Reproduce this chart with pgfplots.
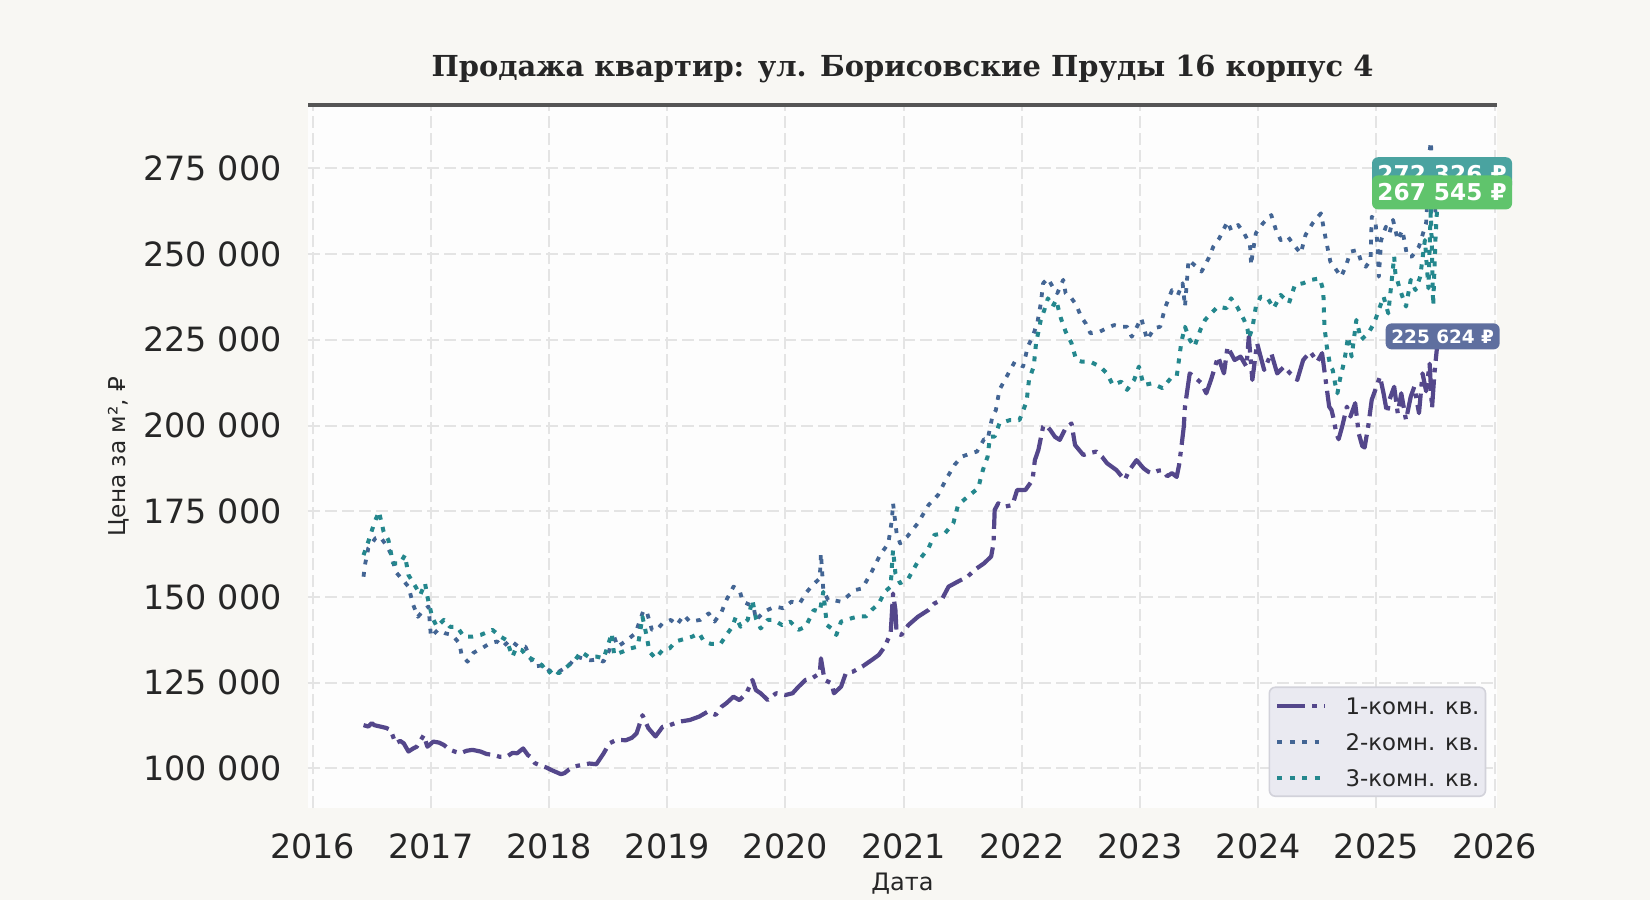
\documentclass[border=0pt]{standalone}
\usepackage{fontspec}
\setmainfont{DejaVu Sans}
\newfontfamily\titlefont{DejaVu Serif}
\usepackage{pgfplots}
\pgfplotsset{compat=1.18}
\definecolor{figbg}{HTML}{F8F7F3}
\definecolor{axbg}{HTML}{FDFDFD}
\definecolor{gridc}{HTML}{E4E4E4}
\definecolor{spinec}{HTML}{555555}
\definecolor{cA}{HTML}{54478B}
\definecolor{cB}{HTML}{436594}
\definecolor{cC}{HTML}{24878D}
\definecolor{legbg}{HTML}{EAEAF1}
\definecolor{legedge}{HTML}{D2D2DA}
\definecolor{boxA}{HTML}{5F6F9F}
\definecolor{boxB}{HTML}{4AA3A0}
\definecolor{boxC}{HTML}{60C46C}
\definecolor{txt}{HTML}{262626}

\begin{document}
\begin{tikzpicture}
\fill[figbg] (0pt,0pt) rectangle (825pt,450pt);
\begin{axis}[
  name=ax,
  at={(154pt,46pt)}, anchor=south west,
  width=594.5pt, height=351.5pt, scale only axis,
  xmin=2015.96, xmax=2026.02, ymin=88430, ymax=293490,
  scaled x ticks=false, scaled y ticks=false,
  clip=false,
  axis background/.style={fill=axbg},
  axis line style={draw=none},
  xtick={2016,2017,2018,2019,2020,2021,2022,2023,2024,2025,2026},
  xticklabels={2016,2017,2018,2019,2020,2021,2022,2023,2024,2025,2026},
  ytick={100000,125000,150000,175000,200000,225000,250000,275000},
  yticklabels={100 000,125 000,150 000,175 000,200 000,225 000,250 000,275 000},
  major tick length=0pt,
  xmajorgrids, ymajorgrids,
  grid style={color=gridc, line width=1pt, dash pattern=on 6pt off 2.5pt},
  xticklabel style={font=\fontsize{16.7}{18}\selectfont, text=txt, anchor=north, inner sep=0pt, yshift=-12.5pt},
  yticklabel style={font=\fontsize{16.7}{18}\selectfont, text=txt, anchor=east, inner sep=0pt, xshift=-13pt},
  xlabel={Дата},
  ylabel={Цена за м², ₽},
  xlabel style={font=\fontsize{12}{14}\selectfont, text=txt, at={(axis description cs:0.5,-0.108)}, anchor=center},
  ylabel style={font=\fontsize{11.6}{14}\selectfont, text=txt, at={(axis description cs:-0.159,0.5)}, anchor=center, rotate=0},
  title={\titlefont\bfseries Продажа квартир: ул. Борисовские Пруды 16 корпус 4},
  title style={font=\fontsize{14.45}{17}\selectfont, text=txt, at={(axis description cs:0.5,1.034)}, anchor=center},
  legend style={at={(axis description cs:0.991,0.0156)}, anchor=south east,
    fill=legbg, draw=legedge, line width=0.8pt, rounded corners=3pt,
    font=\fontsize{11.4}{13}\selectfont, text=txt,
    inner xsep=3pt, inner ysep=5pt, row sep=9.5pt,
    nodes={inner sep=0pt, text height=8.5pt, text depth=0pt},
    /tikz/every odd column/.append style={column sep=9.5pt}},
  legend cell align=left,
  legend image code/.code={\draw[#1] (0pt,0pt) -- (23.5pt,0pt);},
]
\addplot[cA, line width=2.1pt, dash pattern=on 14pt off 3.5pt on 2.3pt off 3.5pt, line join=round] coordinates {
(2016.43,112600)(2016.47,112200)(2016.50,113200)(2016.52,112600)(2016.57,112200)(2016.62,111800)(2016.66,111200)(2016.70,107300)(2016.74,108000)(2016.77,107300)(2016.81,104900)(2016.85,105800)(2016.88,106300)(2016.94,109700)(2016.97,106300)(2017.02,107800)(2017.07,107500)(2017.11,106800)(2017.16,105400)(2017.21,104800)(2017.25,104400)(2017.30,105100)(2017.35,105400)(2017.42,104900)(2017.47,104200)(2017.53,103900)(2017.58,103400)(2017.64,103400)(2017.69,104500)(2017.73,104400)(2017.78,105800)(2017.82,103900)(2017.84,103400)(2017.88,101500)(2017.93,100800)(2017.98,100200)(2018.02,99500)(2018.06,98900)(2018.10,98300)(2018.13,98600)(2018.17,99700)(2018.22,100600)(2018.28,101000)(2018.34,101400)(2018.40,101200)(2018.46,104300)(2018.51,107300)(2018.57,108300)(2018.65,108200)(2018.70,108900)(2018.74,110200)(2018.79,115500)(2018.81,114000)(2018.84,111700)(2018.90,109300)(2018.96,112100)(2019.02,112600)(2019.10,113600)(2019.19,114100)(2019.27,115100)(2019.34,116500)(2019.41,115600)(2019.46,118000)(2019.50,119000)(2019.56,120900)(2019.61,119900)(2019.67,121900)(2019.72,125800)(2019.75,122800)(2019.79,121900)(2019.85,119900)(2019.92,121900)(2020.00,121400)(2020.06,121900)(2020.11,123800)(2020.17,125800)(2020.22,126200)(2020.29,127700)(2020.30,132100)(2020.33,125800)(2020.39,124800)(2020.41,121900)(2020.47,123800)(2020.51,127700)(2020.57,128200)(2020.65,129700)(2020.73,131600)(2020.79,133100)(2020.84,135500)(2020.89,139400)(2020.90,145200)(2020.91,151000)(2020.93,146200)(2020.94,139400)(2020.98,138900)(2021.04,141800)(2021.12,144200)(2021.21,146200)(2021.26,148100)(2021.32,149100)(2021.38,153000)(2021.46,154500)(2021.54,155900)(2021.60,157900)(2021.68,159800)(2021.74,161800)(2021.76,165600)(2021.77,175400)(2021.80,177300)(2021.85,176300)(2021.92,176800)(2021.96,181200)(2022.03,181200)(2022.09,184100)(2022.11,189900)(2022.14,192900)(2022.18,199700)(2022.20,200200)(2022.24,198700)(2022.28,196700)(2022.32,195800)(2022.37,199200)(2022.42,200600)(2022.45,194300)(2022.52,191400)(2022.58,192000)(2022.63,192400)(2022.68,190800)(2022.72,189000)(2022.76,188000)(2022.80,187000)(2022.87,184100)(2022.91,187000)(2022.97,189900)(2023.03,187500)(2023.07,186500)(2023.10,186100)(2023.15,186800)(2023.19,187000)(2023.23,185200)(2023.27,186100)(2023.31,185000)(2023.33,188500)(2023.35,193800)(2023.37,199700)(2023.38,205500)(2023.42,215200)(2023.46,214200)(2023.52,212300)(2023.56,209400)(2023.60,213300)(2023.66,220100)(2023.71,215200)(2023.74,223000)(2023.80,219100)(2023.85,220100)(2023.90,217200)(2023.92,225900)(2023.95,213300)(2023.99,224000)(2024.05,216200)(2024.11,221100)(2024.16,215200)(2024.22,217200)(2024.27,215200)(2024.33,213300)(2024.38,219100)(2024.44,221500)(2024.50,218600)(2024.54,221100)(2024.57,213300)(2024.60,205500)(2024.62,204500)(2024.64,201600)(2024.66,197700)(2024.68,196000)(2024.71,199700)(2024.75,205500)(2024.78,202600)(2024.82,206500)(2024.85,197700)(2024.88,194000)(2024.90,193600)(2024.93,199700)(2024.96,207500)(2025.00,211300)(2025.03,214300)(2025.06,209400)(2025.09,203600)(2025.11,207500)(2025.15,211300)(2025.18,203600)(2025.21,209400)(2025.25,201600)(2025.29,208400)(2025.32,211300)(2025.36,203600)(2025.39,215200)(2025.42,210000)(2025.45,218000)(2025.47,205000)(2025.49,215000)(2025.51,222000)(2025.52,225624)
};
\addlegendentry{1-комн. кв.}
\addplot[cB, line width=1.9pt, dash pattern=on 2.4pt off 3.8pt, line join=round] coordinates {
(2016.43,155900)(2016.44,159000)(2016.47,164200)(2016.53,167100)(2016.57,167600)(2016.63,164700)(2016.67,162000)(2016.70,157400)(2016.75,155400)(2016.81,153000)(2016.85,147700)(2016.89,144200)(2016.94,146200)(2016.98,147200)(2017.00,138400)(2017.06,140400)(2017.12,139400)(2017.18,138900)(2017.24,136500)(2017.26,133100)(2017.31,131100)(2017.36,133700)(2017.43,135000)(2017.50,136500)(2017.56,137000)(2017.61,135500)(2017.67,137400)(2017.74,135500)(2017.80,135500)(2017.83,133000)(2017.88,129700)(2017.95,130100)(2018.01,128200)(2018.06,127700)(2018.12,129000)(2018.18,130500)(2018.23,132600)(2018.29,132000)(2018.35,131500)(2018.41,131800)(2018.46,131100)(2018.51,134500)(2018.54,139400)(2018.58,135500)(2018.66,137400)(2018.73,139400)(2018.80,146200)(2018.83,145200)(2018.87,140400)(2018.91,140400)(2018.96,142300)(2019.03,143300)(2019.08,141800)(2019.14,144700)(2019.19,142800)(2019.28,143300)(2019.35,145200)(2019.40,142800)(2019.46,145700)(2019.50,149100)(2019.56,153000)(2019.61,152000)(2019.64,148600)(2019.73,147200)(2019.75,143300)(2019.82,145700)(2019.91,147200)(2019.98,146700)(2020.05,148600)(2020.12,148100)(2020.17,151000)(2020.23,153500)(2020.29,155400)(2020.30,162700)(2020.32,152000)(2020.36,149100)(2020.40,149100)(2020.47,148600)(2020.54,150600)(2020.59,152000)(2020.65,152500)(2020.73,157400)(2020.80,162200)(2020.87,165600)(2020.90,172400)(2020.91,177300)(2020.94,168600)(2020.97,165600)(2021.03,167600)(2021.12,171500)(2021.21,176800)(2021.29,179700)(2021.36,184400)(2021.43,188500)(2021.49,190900)(2021.57,191900)(2021.62,192400)(2021.68,196000)(2021.71,195800)(2021.75,202600)(2021.78,204500)(2021.81,210400)(2021.87,214200)(2021.94,218600)(2022.01,217200)(2022.05,223000)(2022.09,225900)(2022.13,229800)(2022.16,235600)(2022.18,241500)(2022.22,242900)(2022.26,240500)(2022.30,238600)(2022.35,242500)(2022.37,238600)(2022.42,237100)(2022.46,235200)(2022.50,231800)(2022.54,229800)(2022.58,226900)(2022.66,227400)(2022.72,228400)(2022.78,229300)(2022.84,228800)(2022.89,228800)(2022.93,225900)(2023.01,231300)(2023.06,225000)(2023.12,228400)(2023.17,228800)(2023.21,234200)(2023.27,239500)(2023.32,238100)(2023.36,241500)(2023.38,234700)(2023.41,248300)(2023.46,246800)(2023.52,244900)(2023.58,248800)(2023.62,252200)(2023.67,254600)(2023.74,259500)(2023.77,257000)(2023.83,258500)(2023.88,256100)(2023.93,252700)(2023.94,246800)(2023.95,249700)(2023.98,256100)(2024.04,259000)(2024.11,261400)(2024.15,257000)(2024.19,254100)(2024.25,255100)(2024.30,252700)(2024.36,250200)(2024.40,255600)(2024.46,259000)(2024.53,261900)(2024.57,254600)(2024.61,247800)(2024.65,245900)(2024.70,243400)(2024.74,246300)(2024.78,250700)(2024.84,251200)(2024.87,247800)(2024.91,246300)(2024.95,248300)(2024.96,260900)(2024.99,260000)(2025.01,252200)(2025.02,243400)(2025.04,254100)(2025.08,258000)(2025.11,256100)(2025.14,260000)(2025.18,254100)(2025.22,257000)(2025.26,249300)(2025.30,249300)(2025.36,252200)(2025.42,259000)(2025.45,280000)(2025.46,282800)(2025.48,270000)(2025.50,262000)(2025.52,272326)
};
\addlegendentry{2-комн. кв.}
\addplot[cC, line width=2pt, dash pattern=on 2.5pt off 3.7pt, line join=round] coordinates {
(2016.43,162200)(2016.47,166100)(2016.52,171500)(2016.56,174900)(2016.60,169000)(2016.64,166600)(2016.68,159800)(2016.74,159800)(2016.78,162200)(2016.81,156400)(2016.87,153000)(2016.91,150600)(2016.95,154000)(2016.97,150100)(2017.01,144200)(2017.05,141300)(2017.11,143300)(2017.16,141300)(2017.22,141300)(2017.28,138400)(2017.35,138400)(2017.42,138900)(2017.52,140400)(2017.59,138400)(2017.64,137400)(2017.69,132600)(2017.72,135000)(2017.77,134500)(2017.81,132600)(2017.87,131600)(2017.94,130100)(2017.99,127700)(2018.04,129200)(2018.08,127700)(2018.15,129600)(2018.22,131600)(2018.27,134000)(2018.33,132600)(2018.40,132600)(2018.46,132100)(2018.48,134000)(2018.53,139400)(2018.55,133100)(2018.62,134000)(2018.69,135000)(2018.75,135500)(2018.79,144200)(2018.82,139400)(2018.85,134000)(2018.90,132100)(2018.96,134500)(2019.02,135000)(2019.07,137000)(2019.16,137900)(2019.21,138400)(2019.27,139400)(2019.31,137000)(2019.37,136300)(2019.45,136300)(2019.50,138900)(2019.55,141300)(2019.58,144200)(2019.62,141300)(2019.68,143300)(2019.72,149100)(2019.75,143700)(2019.79,140800)(2019.85,143300)(2019.90,143300)(2019.97,141800)(2020.04,142800)(2020.11,140400)(2020.17,141300)(2020.24,146200)(2020.29,145700)(2020.32,151500)(2020.35,141800)(2020.39,140800)(2020.43,138900)(2020.47,142800)(2020.56,143800)(2020.62,144300)(2020.68,144300)(2020.73,146200)(2020.79,148100)(2020.84,151500)(2020.89,153000)(2020.90,158800)(2020.91,163700)(2020.93,156900)(2020.97,154000)(2021.04,155400)(2021.12,160300)(2021.21,164200)(2021.26,168100)(2021.35,168600)(2021.42,171500)(2021.46,176800)(2021.54,179200)(2021.63,181700)(2021.67,187000)(2021.71,190900)(2021.73,196700)(2021.77,196800)(2021.81,200600)(2021.90,201600)(2021.98,201600)(2022.04,207000)(2022.06,213300)(2022.10,217200)(2022.12,224000)(2022.16,230800)(2022.19,233700)(2022.22,237100)(2022.26,234700)(2022.29,236600)(2022.33,231300)(2022.37,227400)(2022.42,224000)(2022.46,219100)(2022.51,218600)(2022.58,218600)(2022.66,217200)(2022.72,215200)(2022.77,211800)(2022.84,212800)(2022.89,210400)(2022.95,213300)(2022.99,217200)(2023.03,211800)(2023.10,212300)(2023.19,210900)(2023.26,213800)(2023.31,214300)(2023.35,224500)(2023.38,228800)(2023.42,225000)(2023.46,223000)(2023.51,227900)(2023.55,230800)(2023.60,232700)(2023.66,234700)(2023.73,234200)(2023.77,237100)(2023.82,234700)(2023.88,230800)(2023.91,227900)(2023.92,225400)(2023.95,228400)(2023.98,234700)(2024.02,237600)(2024.08,237100)(2024.13,234200)(2024.19,238100)(2024.26,235700)(2024.31,241000)(2024.38,241500)(2024.45,242500)(2024.52,242900)(2024.55,239500)(2024.56,228800)(2024.58,223000)(2024.61,217200)(2024.63,216200)(2024.65,212300)(2024.67,209400)(2024.69,213300)(2024.73,219100)(2024.76,225900)(2024.79,220100)(2024.83,230800)(2024.87,225000)(2024.93,226900)(2024.98,229800)(2025.01,232700)(2025.03,234700)(2025.06,237600)(2025.10,232700)(2025.15,249300)(2025.16,244400)(2025.20,239500)(2025.25,234700)(2025.29,242500)(2025.33,239500)(2025.37,243400)(2025.41,254100)(2025.44,240000)(2025.46,263800)(2025.48,235000)(2025.50,255000)(2025.52,267545)
};
\addlegendentry{3-комн. кв.}
\node[fill=boxB, rounded corners=3pt, text=white, font=\bfseries\fontsize{11.6}{13}\selectfont, inner sep=0pt, minimum width=70pt, minimum height=17pt] at (axis cs:2025.555,273300) {272 326 ₽};
\node[fill=boxC, rounded corners=3pt, text=white, font=\bfseries\fontsize{11.6}{13}\selectfont, inner sep=0pt, minimum width=70pt, minimum height=17pt] at (axis cs:2025.555,268000) {267 545 ₽};
\node[fill=boxA, rounded corners=3pt, text=white, font=\bfseries\fontsize{9.2}{11}\selectfont, inner sep=0pt, minimum width=57pt, minimum height=13pt] at (axis cs:2025.56,226000) {225 624 ₽};
\end{axis}
\draw[spinec, line width=2pt] (ax.north west) -- (ax.north east);
\end{tikzpicture}
\end{document}
